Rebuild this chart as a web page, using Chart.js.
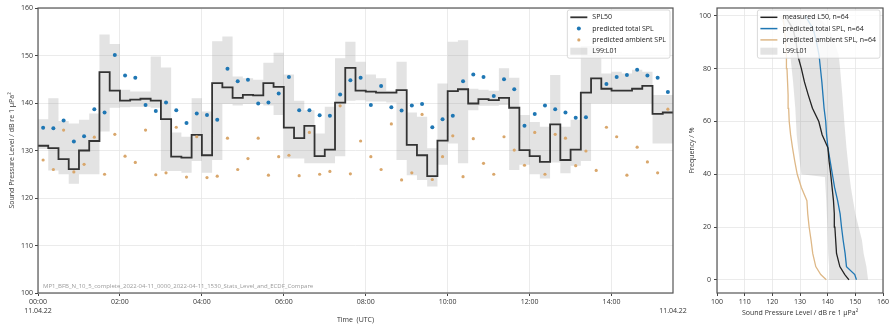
<!DOCTYPE html>
<html><head><meta charset="utf-8">
<script src="https://cdn.jsdelivr.net/npm/chart.js@4.4.1/dist/chart.umd.min.js"></script>
<style>
html,body{margin:0;padding:0;background:#fff;width:893px;height:327px;overflow:hidden}
#c1{position:absolute;left:0;top:0}
#c2{position:absolute;left:680px;top:0}
</style></head><body>
<canvas id="c1" width="690" height="327"></canvas>
<canvas id="c2" width="213" height="327"></canvas>
<script>
// ---------- data ----------
const times = ['00:00','00:15','00:30','00:45','01:00','01:15','01:30','01:45','02:00','02:15','02:30','02:45',
 '03:00','03:15','03:30','03:45','04:00','04:15','04:30','04:45','05:00','05:15','05:30','05:45',
 '06:00','06:15','06:30','06:45','07:00','07:15','07:30','07:45','08:00','08:15','08:30','08:45',
 '09:00','09:15','09:30','09:45','10:00','10:15','10:30','10:45','11:00','11:15','11:30','11:45',
 '12:00','12:15','12:30','12:45','13:00','13:15','13:30','13:45','14:00','14:15','14:30','14:45',
 '15:00','15:15'];
const endTime = '15:30';
const intervalMinutes = 15;

const spl50 = [131.0,130.5,128.2,126.1,130.0,132.0,146.5,142.6,140.5,140.7,
 140.9,140.5,136.6,128.7,128.5,133.3,129.0,144.2,143.3,141.1,
 141.7,141.6,144.2,143.4,134.8,132.6,135.2,128.8,130.2,140.1,
 147.4,142.6,142.4,142.2,142.2,142.7,131.2,129.0,124.6,132.1,
 142.5,142.9,139.9,140.8,140.6,141.1,139.0,130.1,128.8,127.6,
 135.5,128.0,130.2,142.2,145.2,143.0,142.6,142.6,143.0,143.6,
 137.7,138.0];
const totalSPL = [134.8,134.7,136.3,131.9,133.0,138.7,138.0,150.1,145.8,145.3,
 139.6,138.3,140.1,138.5,135.8,137.8,137.5,136.5,147.2,144.6,
 144.9,139.9,140.1,142.0,145.5,138.5,138.5,137.4,137.3,141.8,
 144.8,145.3,139.6,143.6,139.1,138.4,139.5,139.8,134.9,136.6,
 137.3,144.6,146.0,145.5,141.5,145.0,142.9,135.2,137.7,139.5,
 138.7,138.0,136.9,137.0,null,144.0,145.5,145.9,147.0,145.8,
 145.3,142.3];
const ambientSPL = [128.0,126.0,134.3,125.5,127.1,132.8,125.0,133.4,128.8,127.5,
 134.3,124.9,125.3,134.9,124.4,132.9,124.3,124.6,132.6,126.0,
 128.3,132.6,124.8,128.7,129.0,124.7,133.8,125.0,125.6,139.4,
 125.1,132.0,128.7,126.0,135.6,123.8,125.3,137.6,123.9,128.7,
 133.1,124.5,132.5,127.3,125.0,132.9,130.1,126.9,133.8,125.0,
 133.4,132.6,126.8,129.9,125.8,134.9,132.9,124.8,130.7,127.6,
 125.3,138.7];
const l01 = [136.6,141.0,136.2,135.7,136.5,137.8,154.4,152.4,142.8,142.4,
 142.4,149.8,147.5,133.8,132.9,141.0,138.2,153.0,154.0,145.6,
 145.2,144.9,148.5,150.6,146.0,140.5,138.5,133.6,139.2,149.4,
 152.9,148.7,146.0,145.2,142.6,148.7,138.0,137.1,130.5,144.1,
 152.9,153.2,143.0,142.8,142.6,147.3,145.3,137.5,136.0,135.0,
 145.9,135.0,136.5,152.0,152.0,146.2,146.6,146.2,147.0,146.6,
 141.7,141.7];
const l99 = [130.3,125.8,125.0,123.0,125.0,125.0,134.0,139.0,139.1,139.2,
 139.2,139.0,125.7,125.7,125.3,127.8,125.3,128.0,139.8,139.5,
 139.8,139.8,139.5,137.5,128.3,128.3,127.3,127.3,127.3,128.8,
 140.5,140.6,140.3,140.3,140.1,128.0,124.8,123.8,122.4,127.0,
 131.5,127.3,138.5,139.4,139.4,139.6,125.9,127.0,125.0,124.1,
 127.5,125.2,126.8,127.8,139.9,139.9,139.9,139.9,139.9,139.9,
 131.5,131.5];

const xTickHours = [0,2,4,6,8,10,12,14,15.5];
const xTickLabels = [['00:00','11.04.22'],'02:00','04:00','06:00','08:00','10:00','12:00','14:00',['','11.04.22']];
const yTicksLeft = [100,110,120,130,140,150,160];

// ECDF panel
const ecdfFreq = [0,2,5,10,15,20,25,30,35,40,45,50,55,60,65,70,75,80,85,90,95,100];
const ecdfMeasured = [147.7,146.2,144.4,143.2,142.9,142.6,142.4,142.1,141.6,141.1,140.5,140.1,138.0,136.8,134.5,133.0,131.6,130.5,129.2,128.6,127.5,124.6];
const ecdfTotal = [150.4,149.8,146.8,146.3,145.6,145.0,144.5,143.6,142.5,141.7,140.9,140.1,139.6,139.3,138.7,138.3,137.9,137.4,136.9,136.0,134.8,131.9];
const ecdfAmbient = [139.5,137.5,135.7,134.6,134.0,133.3,132.8,132.5,130.5,129.0,128.1,127.3,126.6,126.1,125.9,125.7,125.5,125.3,125.1,124.8,124.4,123.8];
const bandFreqLow = [0,5,10,20,30,39,40,50,55,65,75,85,90,95,100];
const bandLowEdge = [140.8,140.5,140.2,139.9,139.5,139.0,130.5,129.3,128.8,128.3,127.5,126.5,125.3,125.0,122.4];
const bandFreqHigh = [0,5,10,15,20,25,30,35,40,50,60,70,80,85,90,95,100];
const bandHighEdge = [154.6,154.0,153.0,152.4,151.2,150.0,149.2,148.4,147.8,146.8,146.0,145.3,144.5,144.0,142.5,140.5,136.5];
const xTicksRight = [100,110,120,130,140,150,160];
const yTicksRight = [0,20,40,60,80,100];

const legendLeftLabels = ['SPL50','predicted total SPL','predicted ambient SPL','L99:L01'];
const legendRightLabels = ['measured L50, n=64','predicted total SPL, n=64','predicted ambient SPL, n=64','L99:L01'];
const watermark = 'MP1_BFB_N_10_5_complete_2022-04-11_0000_2022-04-11_1530_Stats_Level_and_ECDF_Compare';

// ---------- helpers ----------
const toH = t => { const p = t.split(':').map(Number); return p[0] + p[1] / 60; };
const startH = times.map(toH);
const endH = toH(endTime);
const halfStep = intervalMinutes / 120;
const stepData = vals => startH.map((x, i) => ({x, y: vals[i]})).concat([{x: endH, y: vals[vals.length - 1]}]);
const dotData = vals => startH.map((x, i) => ({x: x + halfStep, y: vals[i]}));
const xyData = (xs, ys) => xs.map((x, i) => ({x, y: ys[i]}));

const BLUE = '#1f77b4', TAN = '#deb887', TANDOT = '#d9a76c', BAND = 'rgba(150,150,150,0.27)', GRID = '#e6e6e6', TXT = '#333';
Chart.defaults.font.family = "'Open Sans', sans-serif";
Chart.defaults.font.size = 7;
Chart.defaults.color = TXT;

function decor(items, mark) {
  return {
    id: 'decor',
    afterDatasetsDraw(chart) {
      const {ctx, chartArea: a} = chart;
      ctx.save();
      ctx.strokeStyle = '#555'; ctx.lineWidth = 1.2;
      ctx.strokeRect(a.left, a.top, a.right - a.left, a.bottom - a.top);
      ctx.restore();
    },
    afterDraw(chart) {
      const {ctx, chartArea: a} = chart;
      ctx.save();
      if (mark) {
        ctx.font = "6px 'Open Sans', sans-serif";
        ctx.fillStyle = '#9a9a9a';
        ctx.textBaseline = 'middle';
        ctx.fillText(mark, a.left + 5, a.bottom - 7);
      }
      ctx.font = "7px 'Open Sans', sans-serif";
      let tw = 0;
      items.forEach(it => { tw = Math.max(tw, ctx.measureText(it.label).width); });
      const w = 3 + 17 + 5 + tw + 4, h = 4 * 11.3 + 3;
      const x = a.right - 3 - w, y = a.top + 2;
      ctx.beginPath();
      if (ctx.roundRect) ctx.roundRect(x, y, w, h, 2); else ctx.rect(x, y, w, h);
      ctx.fillStyle = 'rgba(255,255,255,0.82)'; ctx.fill();
      ctx.strokeStyle = '#cfcfcf'; ctx.lineWidth = 0.8; ctx.stroke();
      items.forEach((it, i) => {
        const cy = y + 7.3 + i * 11.3, hx = x + 3;
        if (it.kind === 'line') {
          ctx.beginPath(); ctx.strokeStyle = it.color; ctx.lineWidth = it.lw;
          ctx.moveTo(hx, cy); ctx.lineTo(hx + 17, cy); ctx.stroke();
        } else if (it.kind === 'dot') {
          ctx.beginPath(); ctx.fillStyle = it.color; ctx.arc(hx + 8.5, cy, it.r, 0, Math.PI * 2); ctx.fill();
        } else {
          ctx.fillStyle = it.color; ctx.fillRect(hx, cy - 3.5, 17, 7);
        }
        ctx.fillStyle = '#222'; ctx.textBaseline = 'middle'; ctx.textAlign = 'left';
        ctx.fillText(it.label, hx + 22, cy);
      });
      ctx.restore();
    }
  };
}

const gridCfg = extra => Object.assign({color: GRID, lineWidth: 0.8, tickColor: '#444', tickLength: 3, tickWidth: 1}, extra || {});

// ---------- left chart ----------
new Chart(document.getElementById('c1'), {
  type: 'line',
  data: {datasets: [
    {label: legendLeftLabels[1], data: dotData(totalSPL), showLine: false, pointRadius: 2, pointBorderWidth: 0,
      pointBackgroundColor: BLUE, backgroundColor: BLUE, borderColor: BLUE},
    {label: legendLeftLabels[2], data: dotData(ambientSPL), showLine: false, pointRadius: 1.6, pointBorderWidth: 0,
      pointBackgroundColor: TANDOT, backgroundColor: TANDOT, borderColor: TANDOT},
    {label: legendLeftLabels[0], data: stepData(spl50), stepped: true, borderColor: '#333', borderWidth: 1.8, pointRadius: 0, fill: false},
    {label: 'L01', data: stepData(l01), stepped: true, borderColor: 'rgba(0,0,0,0)', borderWidth: 0, pointRadius: 0, fill: false},
    {label: 'L99', data: stepData(l99), stepped: true, borderColor: 'rgba(0,0,0,0)', borderWidth: 0, pointRadius: 0,
      fill: '-1', backgroundColor: BAND}
  ]},
  options: {
    responsive: false, animation: false, devicePixelRatio: 1, events: [],
    layout: {padding: {left: 0, right: 17, top: 8, bottom: 0}},
    plugins: {legend: {display: false}, tooltip: {enabled: false}},
    scales: {
      x: {type: 'linear', min: 0, max: endH,
        afterBuildTicks: s => { s.ticks = xTickHours.map(v => ({value: v})); },
        afterFit: s => { s.height = 34; },
        ticks: {autoSkip: false, maxRotation: 0, padding: 2, color: TXT, callback: (v, i) => xTickLabels[i]},
        grid: gridCfg({color: c => (c.tick && c.tick.value === endH) ? 'rgba(0,0,0,0)' : GRID,
                       tickColor: c => (c.tick && c.tick.value === endH) ? 'rgba(0,0,0,0)' : '#444'}),
        border: {display: false},
        title: {display: true, text: 'Time  (UTC)', color: TXT, padding: {top: 0, bottom: 3}}},
      y: {min: 100, max: 160,
        afterBuildTicks: s => { s.ticks = yTicksLeft.map(v => ({value: v})); },
        afterFit: s => { s.width = 38; },
        ticks: {padding: 2, color: TXT},
        grid: gridCfg(),
        border: {display: false},
        title: {display: true, text: 'Sound Pressure Level / dB re 1 µPa²', color: TXT, padding: {top: 8, bottom: 0}}}
    }
  },
  plugins: [decor([
    {kind: 'line', color: '#333', lw: 1.8, label: legendLeftLabels[0]},
    {kind: 'dot', color: BLUE, r: 2, label: legendLeftLabels[1]},
    {kind: 'dot', color: TANDOT, r: 1.6, label: legendLeftLabels[2]},
    {kind: 'patch', color: BAND, label: legendLeftLabels[3]}
  ], watermark)]
});

// ---------- right chart (exceedance curves) ----------
const bandPolygon = xyData(bandLowEdge, bandFreqLow).concat(xyData(bandHighEdge, bandFreqHigh).reverse());
new Chart(document.getElementById('c2'), {
  type: 'line',
  data: {datasets: [
    {label: legendRightLabels[0], data: xyData(ecdfMeasured, ecdfFreq), borderColor: '#222', borderWidth: 1.3, pointRadius: 0, fill: false},
    {label: legendRightLabels[1], data: xyData(ecdfTotal, ecdfFreq), borderColor: BLUE, borderWidth: 1.3, pointRadius: 0, fill: false},
    {label: legendRightLabels[2], data: xyData(ecdfAmbient, ecdfFreq), borderColor: TAN, borderWidth: 1.3, pointRadius: 0, fill: false},
    {label: legendRightLabels[3], data: bandPolygon, borderColor: 'rgba(0,0,0,0)', borderWidth: 0, pointRadius: 0,
      fill: 'shape', backgroundColor: BAND}
  ]},
  options: {
    responsive: false, animation: false, devicePixelRatio: 1, events: [],
    layout: {padding: {left: 0, right: 10, top: 8, bottom: 0}},
    plugins: {legend: {display: false}, tooltip: {enabled: false}},
    scales: {
      x: {type: 'linear', min: 100, max: 160,
        afterBuildTicks: s => { s.ticks = xTicksRight.map(v => ({value: v})); },
        afterFit: s => { s.height = 34; },
        ticks: {autoSkip: false, maxRotation: 0, padding: 2, color: TXT},
        grid: gridCfg(), border: {display: false},
        title: {display: true, text: 'Sound Pressure Level / dB re 1 µPa²', color: TXT, padding: {top: 0, bottom: 10}}},
      y: {type: 'linear', min: -5, max: 103,
        afterBuildTicks: s => { s.ticks = yTicksRight.map(v => ({value: v})); },
        afterFit: s => { s.width = 37; },
        ticks: {padding: 3, color: TXT},
        grid: gridCfg(), border: {display: false},
        title: {display: true, text: 'Frequency / %', color: TXT, padding: {top: 7.5, bottom: 0}}}
    }
  },
  plugins: [decor([
    {kind: 'line', color: '#222', lw: 1.5, label: legendRightLabels[0]},
    {kind: 'line', color: BLUE, lw: 1.5, label: legendRightLabels[1]},
    {kind: 'line', color: TAN, lw: 1.5, label: legendRightLabels[2]},
    {kind: 'patch', color: BAND, label: legendRightLabels[3]}
  ], null)]
});
</script></body></html>
